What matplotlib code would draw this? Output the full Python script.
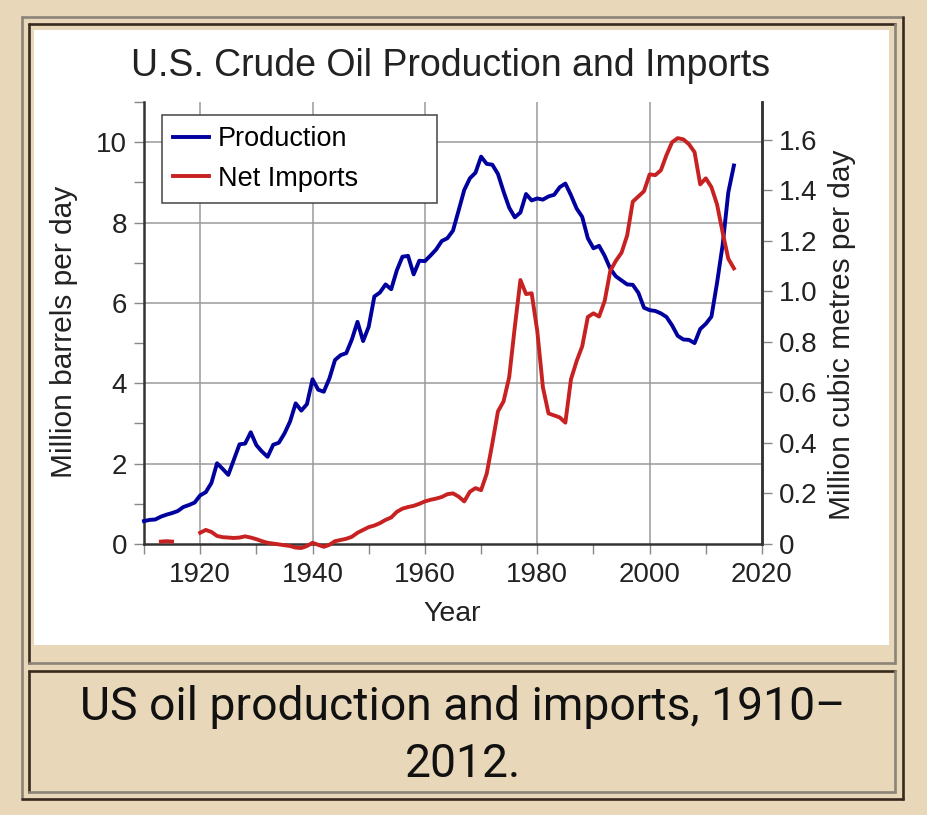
import numpy as np
import matplotlib
matplotlib.use("Agg")
import matplotlib.pyplot as plt
from matplotlib.lines import Line2D
from matplotlib.patches import Rectangle
from matplotlib.ticker import FixedLocator, FuncFormatter

# ---------------- data ----------------
years = list(range(1910, 2016))

production = [
    0.57, 0.60, 0.61, 0.68, 0.73, 0.77, 0.82, 0.92, 0.97, 1.03,   # 1910s
    1.21, 1.29, 1.52, 2.01, 1.87, 1.72, 2.10, 2.48, 2.50, 2.78,   # 1920s
    2.46, 2.30, 2.17, 2.47, 2.52, 2.75, 3.05, 3.50, 3.32, 3.48,   # 1930s
    4.10, 3.84, 3.79, 4.12, 4.58, 4.70, 4.75, 5.09, 5.53, 5.05,   # 1940s
    5.41, 6.16, 6.26, 6.46, 6.34, 6.81, 7.15, 7.17, 6.71, 7.05,   # 1950s
    7.04, 7.18, 7.33, 7.54, 7.61, 7.80, 8.30, 8.81, 9.10, 9.24,   # 1960s
    9.64, 9.46, 9.44, 9.21, 8.77, 8.37, 8.13, 8.25, 8.71, 8.55,   # 1970s
    8.60, 8.57, 8.65, 8.69, 8.88, 8.97, 8.68, 8.35, 8.14, 7.61,   # 1980s
    7.36, 7.42, 7.17, 6.85, 6.66, 6.56, 6.46, 6.45, 6.25, 5.88,   # 1990s
    5.82, 5.80, 5.74, 5.65, 5.44, 5.18, 5.09, 5.08, 5.00, 5.35,   # 2000s
    5.48, 5.66, 6.50, 7.45, 8.75, 9.42,                           # 2010-2015
]

nan = float("nan")
net_imports = [
    nan, nan, nan, 0.06, 0.07, 0.06, nan, nan, nan, nan,          # 1910s
    0.28, 0.35, 0.30, 0.20, 0.17, 0.16, 0.15, 0.16, 0.19, 0.16,   # 1920s
    0.12, 0.07, 0.03, 0.01, -0.01, -0.03, -0.05, -0.09, -0.10, -0.05,  # 1930s
    0.03, -0.02, -0.07, -0.02, 0.07, 0.10, 0.13, 0.18, 0.28, 0.35,  # 1940s
    0.42, 0.46, 0.52, 0.60, 0.66, 0.80, 0.88, 0.92, 0.95, 1.00,   # 1950s
    1.06, 1.10, 1.13, 1.17, 1.24, 1.26, 1.18, 1.06, 1.30, 1.39,   # 1960s
    1.34, 1.75, 2.50, 3.30, 3.55, 4.15, 5.40, 6.57, 6.22, 6.24,   # 1970s
    5.30, 3.90, 3.25, 3.20, 3.15, 3.02, 4.10, 4.55, 4.92, 5.65,   # 1980s
    5.74, 5.66, 6.05, 6.80, 7.05, 7.25, 7.68, 8.52, 8.65, 8.78,   # 1990s
    9.20, 9.18, 9.30, 9.68, 10.00, 10.10, 10.07, 9.95, 9.75, 8.95,  # 2000s
    9.10, 8.88, 8.45, 7.75, 7.10, 6.86,                           # 2010-2015
]

series_labels = ["Production", "Net Imports"]
left_ticks = [0, 2, 4, 6, 8, 10]
left_minor = [1, 3, 5, 7, 9, 11]
x_ticks = [1920, 1940, 1960, 1980, 2000, 2020]
x_minor = [1910, 1930, 1950, 1970, 1990, 2010]
right_ticks = [0, 0.2, 0.4, 0.6, 0.8, 1.0, 1.2, 1.4, 1.6]
BBL_TO_M3 = 0.158987

title = "U.S. Crude Oil Production and Imports"
caption_lines = ["US oil production and imports, 1910\u2013", "2012."]

# ---------------- style ----------------
BEIGE = "#E8D7B8"
GRAY_EDGE = "#8C8478"
DARK_EDGE = "#372A1E"
BLUE = "#00009E"
RED = "#C82121"
GRID = "#9A9A9A"
SPINE = "#333333"

plt.rcParams["font.family"] = ["Liberation Sans", "DejaVu Sans"]

W, H = 927, 815
fig = plt.figure(figsize=(W / 100, H / 100), dpi=100, facecolor=BEIGE)


def fx(x):
    return x / W


def fy(y):
    return 1 - y / H


# white panel
fig.add_artist(Rectangle((fx(34), fy(645)), (889 - 34) / W, (645 - 30) / H,
                         transform=fig.transFigure, facecolor="white",
                         edgecolor="none", zorder=-2))


def hline(y, x0, x1, color):
    fig.add_artist(Line2D([fx(x0), fx(x1)], [fy(y), fy(y)], transform=fig.transFigure,
                          color=color, lw=1.9, solid_capstyle="butt", zorder=-1))


def vline(x, y0, y1, color):
    fig.add_artist(Line2D([fx(x), fx(x)], [fy(y0), fy(y1)], transform=fig.transFigure,
                          color=color, lw=1.9, solid_capstyle="butt", zorder=-1))


# outer frame (outset)
hline(17, 21, 904, GRAY_EDGE)
vline(22, 16, 800, GRAY_EDGE)
hline(799, 21, 904, DARK_EDGE)
vline(902.5, 16, 800, DARK_EDGE)
# upper box (inset)
hline(24, 28, 896, DARK_EDGE)
vline(29, 23, 664, DARK_EDGE)
hline(663, 28, 896, GRAY_EDGE)
vline(895, 23, 664, GRAY_EDGE)
# caption box (inset)
hline(671.3, 28, 896, DARK_EDGE)
vline(29, 670, 793, DARK_EDGE)
hline(792, 28, 896, GRAY_EDGE)
vline(895, 670, 793, GRAY_EDGE)

# ---------------- axes ----------------
ax = fig.add_axes([fx(144), fy(544), (762 - 144) / W, (544 - 102) / H])
ax.set_facecolor("white")
ax.set_xlim(1910, 2020)
ax.set_ylim(0, 11)

ax.plot(years, production, color=BLUE, lw=2.8, label=series_labels[0], zorder=3,
        clip_on=False, solid_joinstyle="round")
ax.plot(years, net_imports, color=RED, lw=2.8, label=series_labels[1], zorder=3,
        clip_on=False, solid_joinstyle="round")

ax.xaxis.set_major_locator(FixedLocator(x_ticks))
ax.xaxis.set_minor_locator(FixedLocator(x_minor))
ax.yaxis.set_major_locator(FixedLocator(left_ticks))
ax.yaxis.set_minor_locator(FixedLocator(left_minor))

for x in x_ticks[:-1]:
    ax.axvline(x, color=GRID, lw=1.1, zorder=1)
for y in left_ticks[1:]:
    ax.axhline(y, color=GRID, lw=1.1, zorder=1)

TICK_FS = 20
ax.tick_params(axis="both", which="both", direction="out", length=7.2, width=1.0,
               color="#888888", labelsize=TICK_FS, labelcolor="#222222")
ax.tick_params(axis="x", which="major", pad=6)
ax.tick_params(axis="y", which="major", pad=5)

ax.spines["top"].set_visible(False)
for s in ["left", "bottom", "right"]:
    ax.spines[s].set_color(SPINE)
    ax.spines[s].set_linewidth(1.8)

ax2 = ax.twinx()
ax2.set_ylim(0, 11 * BBL_TO_M3)
ax2.yaxis.set_major_locator(FixedLocator(right_ticks))
ax2.yaxis.set_major_formatter(FuncFormatter(lambda v, p: "0" if abs(v) < 1e-9 else f"{v:.1f}"))
ax2.tick_params(axis="y", direction="out", length=7.2, width=1.0, color="#888888",
                labelsize=TICK_FS, labelcolor="#222222", pad=5)
ax2.spines["top"].set_visible(False)
ax2.spines["right"].set_color(SPINE)
ax2.spines["right"].set_linewidth(1.8)
ax2.spines["left"].set_visible(False)
ax2.spines["bottom"].set_visible(False)

# legend
leg = ax.legend(loc="upper left",
                bbox_to_anchor=(fx(162), fy(206), (437 - 162) / W, (206 - 115) / H),
                bbox_transform=fig.transFigure, mode="expand",
                fontsize=19.5, frameon=True, fancybox=False, framealpha=1,
                edgecolor="#444444", handlelength=1.3, handletextpad=0.35,
                labelspacing=0.5, borderpad=0.42, borderaxespad=0)
leg.get_frame().set_linewidth(1.1)
leg.set_zorder(5)

# texts
fig.text(fx(451), fy(76), title, ha="center", va="baseline", fontsize=27, color="#222222")
fig.text(fx(452), fy(621), "Year", ha="center", va="baseline", fontsize=20.5, color="#222222")
fig.text(fx(64), fy(332), "Million barrels per day", rotation=90, ha="center", va="center",
         fontsize=21.5, color="#222222")
fig.text(fx(842), fy(335), "Million cubic metres per day", rotation=90, ha="center",
         va="center", fontsize=21.5, color="#222222")

fig.text(fx(463), fy(720), caption_lines[0], ha="center", va="baseline", fontsize=33.3,
         family="Roboto", color="#111111")
fig.text(fx(463), fy(777), caption_lines[1], ha="center", va="baseline", fontsize=33.3,
         family="Roboto", color="#111111")

fig.savefig("out.png", dpi=100, facecolor=BEIGE)
